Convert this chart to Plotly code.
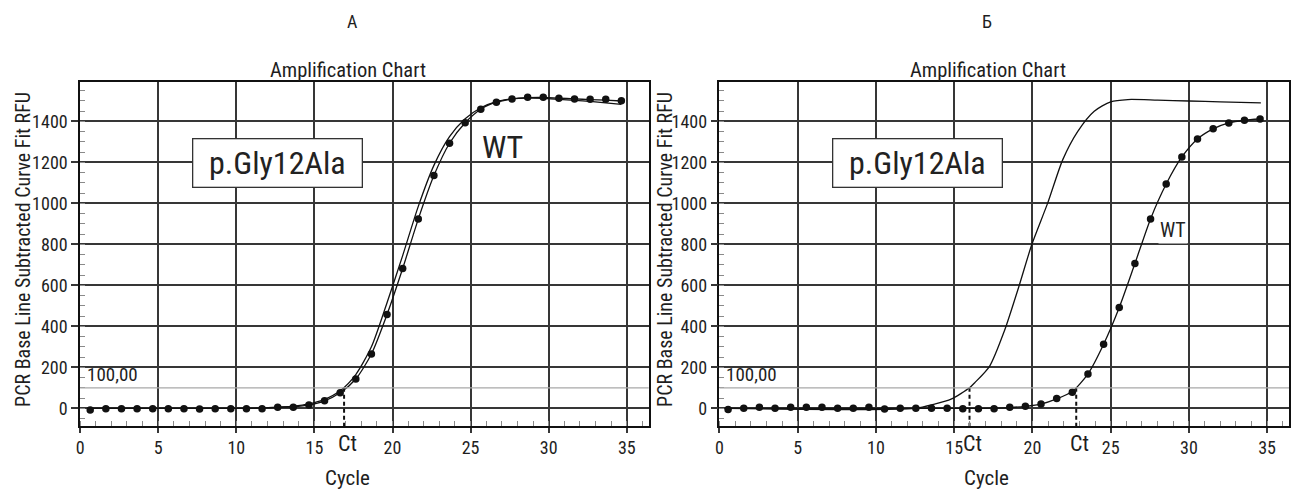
import plotly.graph_objects as go

# ---------------- data ----------------
cycles_a = [0.65, 1.65, 2.65, 3.65, 4.65, 5.65, 6.65, 7.65, 8.65, 9.65, 10.65, 11.65,
            12.65, 13.65, 14.65, 15.65, 16.65, 17.65, 18.65, 19.65, 20.65, 21.65, 22.65,
            23.65, 24.65, 25.65, 26.65, 27.65, 28.65, 29.65, 30.65, 31.65, 32.65, 33.65, 34.65]
wt_dots_a = [-8, -2, -2, -2, -2, -2, -2, -3, -2, -2, -2, -2, 5, 6, 16, 37, 76, 143, 265,
             458, 682, 923, 1135, 1293, 1393, 1459, 1493, 1509, 1517, 1517, 1512, 1509,
             1507, 1507, 1500]
wt_fit_a = [0, 0, 0, 0, 0, 0, 0, 0, 0, 0, 0, 1, 4, 8, 17, 37, 76, 143, 265, 458, 682, 923,
            1135, 1293, 1393, 1459, 1493, 1509, 1515, 1516, 1513, 1509, 1506, 1503, 1499]
mut_a = [0, 0, 0, 0, 0, 0, 0, 0, 0, 0, 0, 2, 6, 11, 22, 44, 86, 165, 300, 515, 745, 985,
         1185, 1325, 1412, 1466, 1496, 1509, 1513, 1512, 1507, 1502, 1497, 1490, 1482]

cycles_b = [0.55, 1.55, 2.55, 3.55, 4.55, 5.55, 6.55, 7.55, 8.55, 9.55, 10.55, 11.55,
            12.55, 13.55, 14.55, 15.55, 16.55, 17.55, 18.55, 19.55, 20.55, 21.55, 22.55,
            23.55, 24.55, 25.55, 26.55, 27.55, 28.55, 29.55, 30.55, 31.55, 32.55, 33.55, 34.55]
wt_dots_b = [-6, 0, 6, 0, 6, 6, 6, 0, 0, 6, -3, 0, 0, 1, 0, -2, -2, -2, 5, 10, 21, 48, 78,
             168, 313, 492, 706, 924, 1094, 1226, 1314, 1363, 1392, 1405, 1411]
wt_fit_b = [0, 0, 0, 0, 0, 0, 0, 0, 0, 0, 0, 0, 0, 0, 0, 0, 0, 1, 4, 10, 21, 46, 82,
            168, 313, 492, 706, 924, 1094, 1226, 1314, 1363, 1392, 1405, 1411]
mut_b_x = [0.55, 12.5, 13.75, 14.8, 15.98, 16.3, 17.26, 18.2, 19.17, 19.96, 20.98, 21.94,
           22.9, 23.95, 25.0, 26.1, 28.0, 30.0, 32.0, 34.6]
mut_b_y = [0, 0, 21, 45, 100, 124, 205, 376, 603, 799, 1002, 1213, 1351, 1449, 1495, 1506,
           1503, 1499, 1495, 1490]

threshold = 100
threshold_label = "100,00"
ct_a = [16.9]
ct_b = [15.98, 22.8]
x_range = [0, 36.4]
y_range = [-86, 1593]
x_ticks = [0, 5, 10, 15, 20, 25, 30, 35]
y_ticks = [0, 200, 400, 600, 800, 1000, 1200, 1400]
box_label = "p.Gly12Ala"
box_pos = [12.67, 1197]
wt_pos_a = [27.05, 1274]
wt_pos_b = [29.0, 872]
panel_letters = ["А", "Б"]
chart_title = "Amplification Chart"
x_title = "Cycle"
y_title = "PCR Base Line Subtracted Curve Fit RFU"

# ---------------- figure ----------------
W, H = 1298, 490
FONT = "Liberation Sans Narrow, Roboto Condensed, Arial Narrow, DejaVu Sans Condensed, sans-serif"
INK = "#1e1e1e"
GRID = "#363636"

fig = go.Figure()

line_style = dict(color="#111111", width=1.3, shape="spline", smoothing=0.7)

def add_panel(xa, ya, xs_fit, fit, xs_mut, mut, xs_dots, dots, cts):
    fig.add_trace(go.Scatter(x=xs_mut, y=mut, mode="lines", line=line_style,
                             xaxis=xa, yaxis=ya, showlegend=False, hoverinfo="skip"))
    fig.add_trace(go.Scatter(x=xs_fit, y=fit, mode="lines", line=line_style,
                             xaxis=xa, yaxis=ya, showlegend=False, hoverinfo="skip"))
    fig.add_trace(go.Scatter(x=xs_dots, y=dots, mode="markers",
                             marker=dict(color="#111111", size=7.5),
                             xaxis=xa, yaxis=ya, showlegend=False))
    for c in cts:
        fig.add_trace(go.Scatter(x=[c, c], y=[threshold, y_range[0]], mode="lines",
                                 line=dict(color="#111111", width=2, dash="4px,3px"),
                                 xaxis=xa, yaxis=ya, showlegend=False, hoverinfo="skip"))

add_panel("x", "y", cycles_a, wt_fit_a, cycles_a, mut_a, cycles_a, wt_dots_a, ct_a)
add_panel("x2", "y2", cycles_b, wt_fit_b, mut_b_x, mut_b_y, cycles_b, wt_dots_b, ct_b)

def px_x(p):
    return p / W

def px_y(p):
    return 1 - p / H

common_x = dict(range=x_range, tickvals=x_ticks, showgrid=True, gridcolor=GRID, gridwidth=1.7,
                showline=True, linecolor="#111111", linewidth=1.6, mirror=True,
                ticks="outside", ticklen=5, tickcolor=GRID, tickwidth=1.6,
                tickfont=dict(size=18, color=INK, family=FONT), zeroline=False,
                minor=dict(dtick=1, tick0=0, ticks="inside", ticklen=5, tickcolor="#8a8a8a",
                           tickwidth=1, showgrid=False),
                fixedrange=True)
common_y = dict(range=y_range, tickvals=y_ticks, showgrid=True, gridcolor=GRID, gridwidth=1.7,
                showline=True, linecolor="#111111", linewidth=1.6, mirror=True,
                ticks="outside", ticklen=7, tickcolor=GRID, tickwidth=1.6,
                tickfont=dict(size=18, color=INK, family=FONT), zeroline=False,
                minor=dict(dtick=50, tick0=0, ticks="inside", ticklen=5, tickcolor="#8a8a8a",
                           tickwidth=1, showgrid=False),
                fixedrange=True)

y_dom = [px_y(426), px_y(81.7)]
fig.update_layout(
    width=W, height=H,
    margin=dict(l=0, r=0, t=0, b=0),
    paper_bgcolor="white", plot_bgcolor="white",
    font=dict(family=FONT, color=INK, size=17),
    xaxis=dict(domain=[px_x(76.3), px_x(646.7)], anchor="y", **common_x),
    yaxis=dict(domain=y_dom, anchor="x", **common_y),
    xaxis2=dict(domain=[px_x(717.7), px_x(1289)], anchor="y2", **common_x),
    yaxis2=dict(domain=y_dom, anchor="x2", **common_y),
)

shapes = []
for ya in ["y", "y2"]:
    xa = "x" if ya == "y" else "x2"
    shapes.append(dict(type="line", xref=f"{xa} domain", x0=0, x1=1, yref=ya,
                       y0=threshold, y1=threshold, line=dict(color="#a8a8a8", width=1.2)))
fig.update_layout(shapes=shapes)

C = dict(xanchor="center", yanchor="middle", showarrow=False)
ann = []
# panel letters and titles
for letter, cx in zip(panel_letters, [350, 986]):
    ann.append(dict(text=letter, x=px_x(cx), y=px_y(22), xref="paper", yref="paper",
                    font=dict(size=18), **C))
for cx in [345, 987]:
    ann.append(dict(text=chart_title, x=px_x(cx), y=px_y(70), xref="paper", yref="paper",
                    font=dict(size=20.5), **C))
for cx in [344.5, 986]:
    ann.append(dict(text=x_title, x=px_x(cx), y=px_y(478), xref="paper", yref="paper",
                    font=dict(size=21), **C))
for cx in [19, 663]:
    ann.append(dict(text=y_title, x=px_x(cx), y=px_y(249), xref="paper", yref="paper",
                    textangle=-90, font=dict(size=20), **C))
# boxes, labels
for xa, ya in [("x", "y"), ("x2", "y2")]:
    ann.append(dict(text=box_label, x=box_pos[0], y=box_pos[1], xref=xa, yref=ya,
                    font=dict(size=32, color="#222222"),
                    bgcolor="white", bordercolor="#333333", borderwidth=1.3,
                    width=168, height=47, borderpad=0, **C))
    ann.append(dict(text=threshold_label, x=0.3, y=threshold, xref=xa, yref=ya,
                    xanchor="left", yanchor="bottom", showarrow=False, font=dict(size=19)))
ann.append(dict(text="WT", x=wt_pos_a[0], y=wt_pos_a[1], xref="x", yref="y",
                font=dict(size=32, color="#222222"), **C))
ann.append(dict(text="WT", x=wt_pos_b[0], y=wt_pos_b[1], xref="x2", yref="y2",
                font=dict(size=20, color="#222222"), bgcolor="white", **C))
for xa, cts in [("x", ct_a), ("x2", ct_b)]:
    for c in cts:
        ann.append(dict(text="Ct", x=c, y=px_y(443), xref=xa, yref="paper",
                        font=dict(size=22), xshift=3, **C))
fig.update_layout(annotations=ann)

fig.write_html("out.html", config={"displayModeBar": False},
               post_script="document.body.style.margin='0px';")
